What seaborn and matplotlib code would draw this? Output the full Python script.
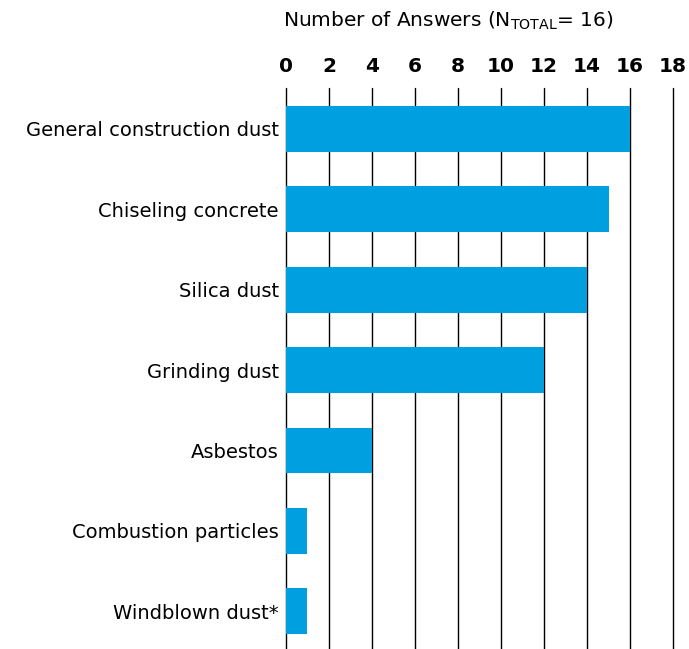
import pandas as pd
import matplotlib.pyplot as plt
import seaborn as sns

# données
categories = [
    "General construction dust",
    "Chiseling concrete",
    "Silica dust",
    "Grinding dust",
    "Asbestos",
    "Combustion particles",
    "Windblown dust*",
]
reponses = [16, 15, 14, 12, 4, 1, 1]
graduations = list(range(0, 19, 2))

COULEUR_BARRE = "#009FDF"

df = pd.DataFrame({"categorie": categories, "reponses": reponses})

sns.set_theme(style="white")
plt.rcParams["font.family"] = ["DejaVu Sans"]
plt.rcParams["text.color"] = "black"
plt.rcParams["xtick.color"] = "black"
plt.rcParams["ytick.color"] = "black"

fig = plt.figure(figsize=(6.89, 6.49), dpi=100)
ax = fig.add_axes([0.415, 0.0, 0.977 - 0.415, 0.8644])

sns.barplot(data=df, x="reponses", y="categorie", color=COULEUR_BARRE,
            width=0.57, saturation=1, linewidth=0, ax=ax, zorder=3)

ax.set_xlim(0, 18)
ax.set_ylim(6.47, -0.51)
ax.set_xticks(graduations)
ax.xaxis.tick_top()
ax.tick_params(axis="x", length=0, pad=9, labelsize=14.5)
ax.tick_params(axis="y", length=0, pad=5, labelsize=14)
for lab in ax.get_xticklabels():
    lab.set_fontweight("bold")

# lignes verticales (grille) derrière les barres
for g in graduations:
    ax.axvline(g, color="black", linewidth=1, zorder=0, clip_on=False)
for s in ax.spines.values():
    s.set_visible(False)
ax.set_xlabel("")
ax.set_ylabel("")

fig.text(0.65, 0.968, r"Number of Answers (N$_{\mathrm{TOTAL}}$= 16)",
         ha="center", va="center", fontsize=14.5)

plt.savefig("out.png", dpi=100)
plt.close()
